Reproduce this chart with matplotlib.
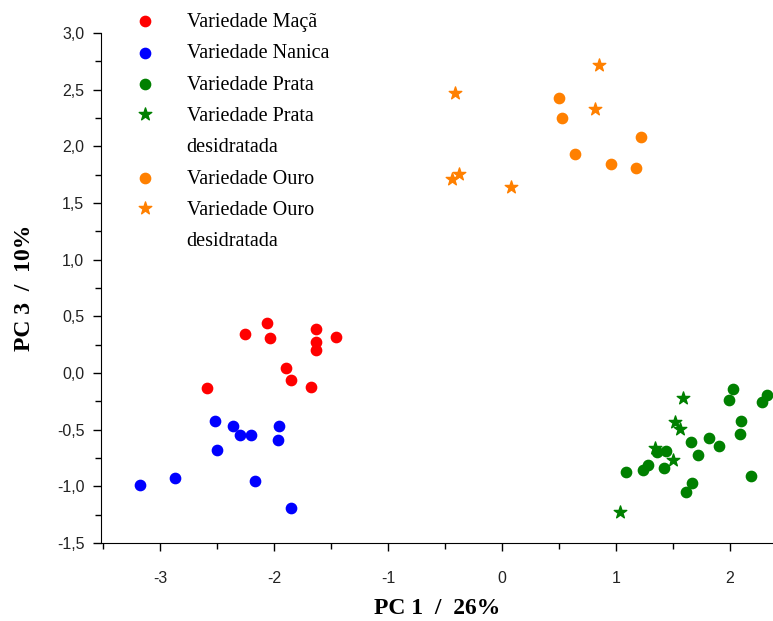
import numpy as np
import matplotlib
matplotlib.use("Agg")
import matplotlib.pyplot as plt
from matplotlib.ticker import FuncFormatter, MultipleLocator
from matplotlib.legend_handler import HandlerPathCollection

plt.rcParams['font.family'] = ['Liberation Serif', 'DejaVu Serif']

# scores (PC1, PC3)
maca_x = [-2.06, -2.26, -2.04, -1.63, -1.46, -1.63, -1.63, -1.90, -1.85, -1.68, -2.59]
maca_y = [0.44, 0.34, 0.31, 0.39, 0.32, 0.27, 0.20, 0.04, -0.06, -0.12, -0.13]

nanica_x = [-2.52, -2.36, -2.30, -2.20, -1.96, -1.97, -2.50, -2.87, -3.18, -2.17, -1.85]
nanica_y = [-0.42, -0.47, -0.55, -0.55, -0.47, -0.59, -0.68, -0.93, -0.99, -0.95, -1.19]

prata_x = [2.03, 1.99, 2.28, 2.33, 2.10, 2.09, 1.66, 1.82, 1.91, 1.72, 1.36, 1.44,
           1.09, 1.24, 1.28, 1.42, 2.19, 1.62, 1.67]
prata_y = [-0.14, -0.24, -0.26, -0.19, -0.42, -0.54, -0.61, -0.57, -0.64, -0.72, -0.70, -0.69,
           -0.87, -0.86, -0.81, -0.84, -0.91, -1.05, -0.97]

prata_des_x = [1.59, 1.52, 1.56, 1.34, 1.50, 1.04]
prata_des_y = [-0.22, -0.43, -0.49, -0.66, -0.77, -1.23]

ouro_x = [0.50, 0.53, 1.22, 0.64, 0.96, 1.18]
ouro_y = [2.43, 2.25, 2.08, 1.93, 1.84, 1.81]

ouro_des_x = [0.85, -0.41, 0.82, -0.38, -0.44, 0.08]
ouro_des_y = [2.72, 2.47, 2.33, 1.76, 1.71, 1.64]


def comma(v, pos):
    return ("%.1f" % v).replace(".", ",")


def draw():
    fig = plt.figure(figsize=(7.73, 6.21), dpi=100)
    ax = fig.add_axes([0.1307, 0.1256, 0.8693, 0.8213])

    ax.scatter(maca_x, maca_y, s=55, marker='o', color='#ff0000', label='Variedade Maçã', zorder=3)
    ax.scatter(nanica_x, nanica_y, s=55, marker='o', color='#0000ff', label='Variedade Nanica', zorder=3)
    ax.scatter(prata_x, prata_y, s=55, marker='o', color='#008000', label='Variedade Prata', zorder=3)
    sp = ax.scatter(prata_des_x, prata_des_y, s=90, marker='*', color='#008000',
                    label='Variedade Prata\ndesidratada', zorder=3)
    ax.scatter(ouro_x, ouro_y, s=55, marker='o', color='#ff8000', label='Variedade Ouro', zorder=3)
    so = ax.scatter(ouro_des_x, ouro_des_y, s=90, marker='*', color='#ff8000',
                    label='Variedade Ouro\ndesidratada', zorder=3)

    ax.set_xlim(-3.52, 2.38)
    ax.set_ylim(-1.5, 3.0)
    ax.xaxis.set_major_locator(MultipleLocator(1))
    ax.xaxis.set_minor_locator(MultipleLocator(0.5))
    ax.yaxis.set_major_locator(MultipleLocator(0.5))
    ax.yaxis.set_minor_locator(MultipleLocator(0.25))
    ax.yaxis.set_major_formatter(FuncFormatter(comma))
    ax.xaxis.set_major_formatter(FuncFormatter(lambda v, p: "%d" % round(v)))

    ax.spines['top'].set_visible(False)
    ax.spines['right'].set_visible(False)
    ax.tick_params(which='major', direction='out', length=6, width=1, labelsize=11.5)
    ax.tick_params(axis='x', which='major', pad=14)
    ax.tick_params(axis='y', which='major', pad=6)
    ax.tick_params(which='minor', direction='out', length=4, width=1)
    for lab in ax.get_xticklabels() + ax.get_yticklabels():
        lab.set_family(['Liberation Sans', 'DejaVu Sans'])
        lab.set_color('#222222')

    ax.set_xlabel("PC 1  /  26%", fontsize=17, fontweight='bold', labelpad=9)
    ax.set_ylabel("PC 3  /  10%", fontsize=17, fontweight='bold', labelpad=16)

    # star markers of the two-line entries sit on the first line
    up = HandlerPathCollection(yoffsets=[1.8])
    leg = ax.legend(loc='upper left', bbox_to_anchor=(0.024, 1.056), frameon=False,
                    fontsize=14.5, handletextpad=1.05, labelspacing=0.62, scatterpoints=1,
                    borderaxespad=0, handler_map={sp: up, so: up})
    for t in leg.get_texts():
        t.set_linespacing(1.85)

    fig.savefig("out.png", dpi=100)


draw()
